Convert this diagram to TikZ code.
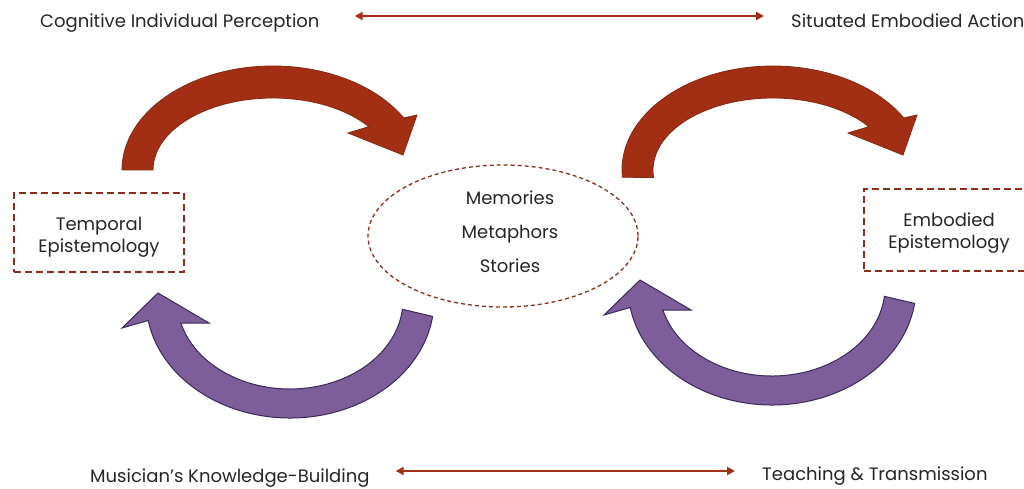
\documentclass[tikz,border=0pt]{standalone}
\usepackage{fontspec}
\setmainfont{Poppins}
\usetikzlibrary{arrows.meta}
\usetikzlibrary{positioning}
\usetikzlibrary{shapes.geometric}

\definecolor{rustred}{HTML}{A22F13}
\definecolor{rustedge}{HTML}{862610}
\definecolor{plum}{HTML}{7E5E9A}
\definecolor{plumedge}{HTML}{3B2A58}
\definecolor{inkgray}{HTML}{262626}
\definecolor{dashred}{HTML}{8E2E1A}

\tikzset{
    caption/.style={font=\fontsize{18}{22}\selectfont, text=inkgray, inner sep=0pt},
    link/.style={rustred, line width=2pt, {Triangle[length=8pt,width=8pt]}-{Triangle[length=8pt,width=8pt]}},
    episbox/.style={draw=dashred, line width=1.6pt, dash pattern=on 7pt off 4pt, minimum width=170pt},
    hubring/.style={ellipse, draw=dashred, line width=1.3pt, dash pattern=on 4pt off 3pt, minimum width=270pt, minimum height=142pt, inner sep=0pt},
    redarrow/.style={fill=rustred, draw=rustedge, line width=0.8pt, line join=miter},
    purplearrow/.style={fill=plum, draw=plumedge, line width=1pt, line join=miter}
}

\begin{document}
\begin{tikzpicture}[x=1pt, y=1pt]
    \clip (0,0) rectangle (1024,488);
    \fill[white] (0,0) rectangle (1024,488);

    % Top row
    \node[caption, anchor=base west] (cip) at (40,460) {Cognitive Individual Perception};
    \node[caption, anchor=base west] (sea) at (791,460) {Situated Embodied Action};
    \draw[link] ([xshift=35]cip.east |- 0,472) -- ([xshift=-27]sea.west |- 0,472);

    % Bottom row
    \node[caption, anchor=base west] (mkb) at (90,6) {Musician’s Knowledge-Building};
    \node[caption, anchor=base west] (tat) at (762,8) {Teaching \& Transmission};
    \draw[link] ([xshift=26]mkb.east |- 0,17) -- ([xshift=-27]tat.west |- 0,17);

    % Epistemology boxes
    \node[episbox, minimum height=79pt] (temporal) at (99,255.5) {};
    \node[caption, align=center] (temporaltext) at (99,251) {Temporal\\Epistemology};
    \node[episbox, minimum height=82pt] (embodied) at (949,258) {};
    \node[caption, align=center] (embodiedtext) at (949,254.5) {Embodied\\Epistemology};

    % Centre ellipse
    \node[hubring] (hub) at (503,252) {};
    \node[caption, align=center, font=\fontsize{18}{34}\selectfont] (hubtext) at (510,256) {Memories\\Metaphors\\Stories};

    % Red arrows (over the top)
    \filldraw[redarrow] ([shift={(273,318)}]180:151 and 104) arc[start angle=180, end angle=30, x radius=151, y radius=104]
        -- (417,373) -- (403,333) -- (348,355)
        -- ([shift={(273,318)}]37:120 and 72) arc[start angle=37, end angle=180, x radius=120, y radius=72] -- cycle;
    \begin{scope}[xshift=500]
        \filldraw[redarrow] ([shift={(273,318)}]184:151 and 104) arc[start angle=184, end angle=30, x radius=151, y radius=104]
            -- (417,373) -- (403,333) -- (348,355)
            -- ([shift={(273,318)}]37:120 and 72) arc[start angle=37, end angle=186, x radius=120, y radius=72] -- cycle;
    \end{scope}

    % Purple arrows (underneath)
    \filldraw[purplearrow] ([shift={(290,188)}]-8:144 and 118) arc[start angle=-8, end angle=-170, x radius=144, y radius=118]
        -- (122,160) -- (158,195) -- (209,165)
        -- ([shift={(290,188)}]-165:113 and 89) arc[start angle=-165, end angle=-6, x radius=113, y radius=89] -- cycle;
    \begin{scope}[xshift=482, yshift=13]
        \filldraw[purplearrow] ([shift={(290,188)}]-8:144 and 118) arc[start angle=-8, end angle=-170, x radius=144, y radius=118]
            -- (122,160) -- (158,195) -- (209,165)
            -- ([shift={(290,188)}]-165:113 and 89) arc[start angle=-165, end angle=-6, x radius=113, y radius=89] -- cycle;
    \end{scope}
\end{tikzpicture}
\end{document}
